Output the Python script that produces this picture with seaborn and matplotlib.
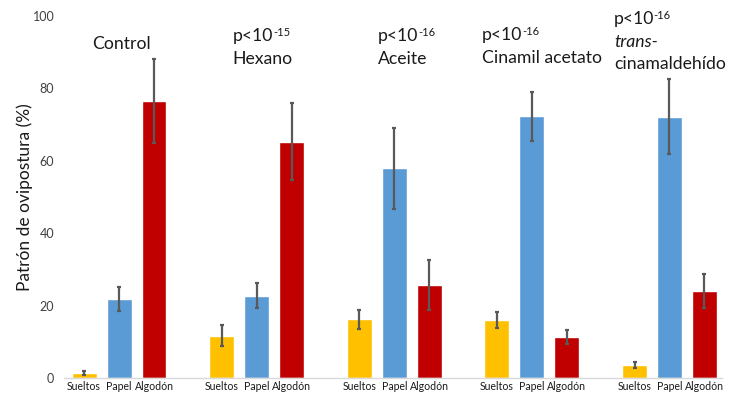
import matplotlib
matplotlib.use("Agg")
import matplotlib.pyplot as plt
import numpy as np
import pandas as pd
import seaborn as sns

# Oviposition pattern per treatment and substrate (mean % and error)
tratamientos = ["Control", "Hexano", "Aceite", "Cinamil acetato", "trans-cinamaldehído"]
sustratos = ["Sueltos", "Papel", "Algodón"]

sueltos = [1.3, 11.7, 16.2, 16.0, 3.6]
papel = [21.9, 22.7, 57.9, 72.3, 72.2]
algodon = [76.5, 65.3, 25.7, 11.3, 24.0]

err_sueltos = [0.5, 2.8, 2.7, 2.2, 0.9]
err_papel = [3.3, 3.5, 11.2, 6.7, 10.4]
err_algodon = [11.6, 10.7, 6.9, 2.0, 4.7]

colores = ["#FFC000", "#5B9BD5", "#C00000"]

valores = {"Sueltos": sueltos, "Papel": papel, "Algodón": algodon}
errores = {"Sueltos": err_sueltos, "Papel": err_papel, "Algodón": err_algodon}

df = pd.DataFrame(
    [(t, s, valores[s][i]) for s in sustratos for i, t in enumerate(tratamientos)],
    columns=["tratamiento", "sustrato", "valor"],
)

sns.set_theme(style="white")
plt.rcParams["font.family"] = ["Lato", "DejaVu Sans"]

fig = plt.figure(figsize=(7.30, 3.98), dpi=100)
ax = fig.add_axes([0.0877, 0.0503, 0.901, 0.9095])

sns.barplot(
    data=df, x="tratamiento", y="valor", hue="sustrato",
    order=tratamientos, hue_order=sustratos, palette=colores,
    width=0.762, gap=0.286, errorbar=None, legend=False,
    saturation=1, ax=ax,
)

# Error bars and per-bar tick labels at the bar centres
centros, etiquetas = [], []
for cont, s in zip(ax.containers, sustratos):
    for patch, e in zip(cont.patches, errores[s]):
        cx = patch.get_x() + patch.get_width() / 2
        ax.errorbar(cx, patch.get_height(), yerr=e, color="#595959",
                    elinewidth=1.6, capsize=1.5, capthick=1.6, zorder=3)
        centros.append(cx)
        etiquetas.append(s)

ax.set_xticks(centros)
ax.set_xticklabels(etiquetas, fontsize=7.6, color="#1a1a1a")
ax.tick_params(axis="x", length=0, pad=2)
ax.tick_params(axis="y", length=0, labelsize=9, pad=7, colors="#404040")
ax.set_xlim(-0.4, 4.38)
ax.set_ylim(0, 100)
ax.set_yticks(np.arange(0, 101, 20))
ax.set_xlabel("")
ax.set_ylabel("Patrón de ovipostura (%)", fontsize=12.5, labelpad=0, color="#1a1a1a")

for sp in ["top", "right", "left"]:
    ax.spines[sp].set_visible(False)
ax.spines["bottom"].set_color("#D9D9D9")
ax.spines["bottom"].set_linewidth(1)

# Treatment headings
fs = 12.7


def p_valor(x, y, exp, dx=0.3):
    base = ax.text(x, y, "p<10", fontsize=fs, ha="left", va="baseline",
                   clip_on=False, color="#1a1a1a")
    ax.annotate(exp, xy=(1, 1), xycoords=base, xytext=(dx, 0.5),
                textcoords="offset points", fontsize=8, ha="left", va="top",
                color="#1a1a1a", annotation_clip=False)


ax.text(0.015, 90.9, "Control", fontsize=fs, ha="center", va="baseline", color="#1a1a1a")
p_valor(0.827, 93.1, "-15")
ax.text(0.827, 86.7, "Hexano", fontsize=fs, ha="left", va="baseline", color="#1a1a1a")
p_valor(1.878, 93.1, "-16")
ax.text(1.878, 86.7, "Aceite", fontsize=fs, ha="left", va="baseline", color="#1a1a1a")
p_valor(2.634, 93.4, "-16")
ax.text(2.634, 87.0, "Cinamil acetato", fontsize=fs, ha="left", va="baseline", color="#1a1a1a")
p_valor(3.597, 97.8, "-16", dx=-0.8)
ax.text(3.597, 91.4, "trans-", fontsize=fs, ha="left", va="baseline", style="italic", color="#1a1a1a")
ax.text(3.597, 85.4, "cinamaldehído", fontsize=fs, ha="left", va="baseline", color="#1a1a1a")

fig.savefig("out.png", dpi=100)
